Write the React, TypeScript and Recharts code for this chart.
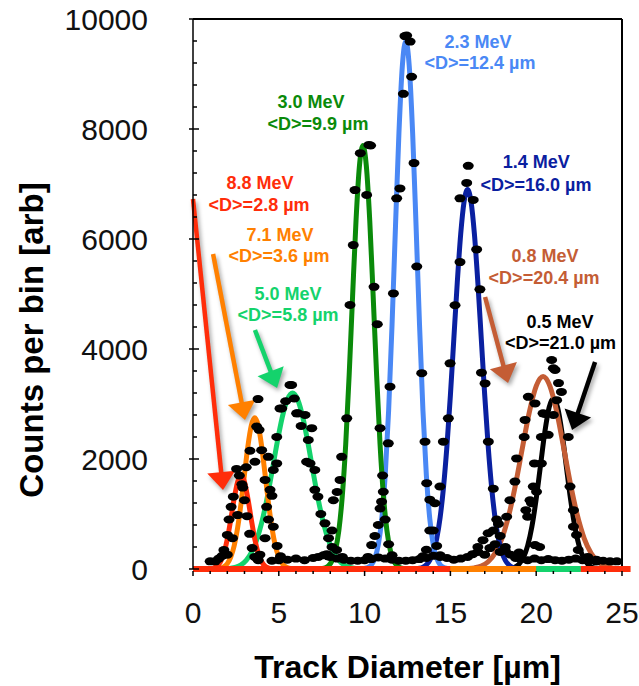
import React from 'react';
import {
  ComposedChart,
  Line,
  Scatter,
  XAxis,
  YAxis,
  ReferenceLine,
  ReferenceDot,
} from 'recharts';

const FONT = '"Liberation Sans", Arial, Helvetica, sans-serif';

// axis ticks
const X_TICKS = [0, 1, 2, 3, 4, 5, 6, 7, 8, 9, 10, 11, 12, 13, 14, 15, 16, 17, 18, 19, 20, 21, 22, 23, 24, 25];
const Y_TICKS = [0, 400, 800, 1200, 1600, 2000, 2400, 2800, 3200, 3600, 4000, 4400, 4800, 5200, 5600, 6000, 6400, 6800, 7200, 7600, 8000, 8400, 8800, 9200, 9600, 10000];

// fitted curves: [diameter µm, counts]
const FIT_88 = [[0, 0], [0.8, 0], [1.0, 5], [1.2, 18], [1.4, 52], [1.6, 131], [1.8, 287], [2.0, 544], [2.2, 896], [2.4, 1279], [2.6, 1583], [2.8, 1700], [3.0, 1583], [3.2, 1279], [3.4, 896], [3.6, 544], [3.8, 287], [4.0, 131], [4.2, 52], [4.4, 18], [4.6, 5], [4.8, 0], [15, 0]];
const FIT_71 = [[0, 0], [1.2, 0], [1.4, 5], [1.6, 15], [1.8, 41], [2.0, 98], [2.2, 215], [2.4, 423], [2.6, 748], [2.8, 1196], [3.0, 1721], [3.2, 2233], [3.4, 2610], [3.6, 2750], [3.8, 2610], [4.0, 2233], [4.2, 1721], [4.4, 1196], [4.6, 748], [4.8, 423], [5.0, 215], [5.2, 98], [5.4, 41], [5.6, 15], [5.8, 5], [6.0, 0], [20, 0]];
const FIT_50 = [[0, 0], [1.6, 0], [1.9, 6], [2.2, 15], [2.5, 36], [2.8, 77], [3.1, 157], [3.4, 297], [3.7, 518], [4.0, 838], [4.3, 1261], [4.6, 1763], [4.9, 2291], [5.2, 2758], [5.5, 3082], [5.8, 3200], [6.1, 3082], [6.4, 2758], [6.7, 2291], [7.0, 1763], [7.3, 1261], [7.6, 838], [7.9, 518], [8.2, 297], [8.5, 157], [8.8, 77], [9.1, 36], [9.4, 15], [9.7, 6], [10.0, 0], [22.6, 0]];
const FIT_30 = [[0, 0], [7.3, 0], [7.5, 7], [7.7, 21], [7.9, 59], [8.1, 148], [8.3, 338], [8.5, 703], [8.7, 1327], [8.9, 2272], [9.1, 3524], [9.3, 4958], [9.5, 6335], [9.7, 7332], [9.9, 7700], [10.1, 7332], [10.3, 6335], [10.5, 4958], [10.7, 3524], [10.9, 2272], [11.1, 1327], [11.3, 703], [11.5, 338], [11.7, 148], [11.9, 59], [12.1, 21], [12.3, 7], [12.5, 0], [15, 0]];
const FIT_23 = [[0, 0], [9.8, 0], [10.0, 10], [10.2, 29], [10.4, 79], [10.6, 197], [10.8, 443], [11.0, 909], [11.2, 1699], [11.4, 2880], [11.6, 4445], [11.8, 6230], [12.0, 7920], [12.2, 9149], [12.4, 9600], [12.6, 9149], [12.8, 7920], [13.0, 6230], [13.2, 4445], [13.4, 2880], [13.6, 1699], [13.8, 909], [14.0, 443], [14.2, 197], [14.4, 79], [14.6, 29], [14.8, 10], [15.0, 0]];
const FIT_14 = [[5, 0], [12.8, 0], [13.0, 6], [13.2, 15], [13.4, 34], [13.6, 76], [13.8, 157], [14.0, 303], [14.2, 549], [14.4, 934], [14.6, 1492], [14.8, 2240], [15.0, 3159], [15.2, 4185], [15.4, 5208], [15.6, 6089], [15.8, 6686], [16.0, 6900], [16.2, 6686], [16.4, 6089], [16.6, 5208], [16.8, 4185], [17.0, 3159], [17.2, 2240], [17.4, 1492], [17.6, 934], [17.8, 549], [18.0, 303], [18.2, 157], [18.4, 76], [18.6, 34], [18.8, 15], [19.0, 6], [19.2, 0], [22, 0]];
const FIT_08 = [[15, 0], [15.6, 0], [16.0, 7], [16.4, 21], [16.8, 55], [17.2, 132], [17.6, 285], [18.0, 553], [18.4, 973], [18.8, 1543], [19.2, 2208], [19.6, 2852], [20.0, 3325], [20.4, 3500], [20.8, 3325], [21.2, 2852], [21.6, 2208], [22.0, 1543], [22.4, 973], [22.8, 553], [23.2, 285], [23.6, 132], [24.0, 55], [24.4, 21], [24.8, 7], [25, 0]];
const FIT_05 = [[15, 0], [18.2, 0], [18.5, 13], [18.75, 34], [19.0, 89], [19.25, 204], [19.5, 419], [19.75, 773], [20.0, 1275], [20.25, 1880], [20.5, 2483], [20.75, 2933], [21.0, 3100], [21.25, 2933], [21.5, 2483], [21.75, 1880], [22.0, 1275], [22.25, 773], [22.5, 419], [22.75, 204], [23.0, 89], [23.25, 34], [23.5, 13], [23.8, 0], [25, 0]];

// measured histogram points
const DOTS_88 = [[1.3, 140], [1.5, 190], [1.7, 240], [1.8, 345], [2.0, 620], [2.1, 900], [2.22, 1130], [2.35, 1315], [2.54, 1820], [2.7, 1700], [2.85, 1540], [3.0, 1250], [3.15, 960], [3.3, 640], [3.45, 380], [3.6, 220], [3.8, 160]];
const DOTS_71 = [[2.0, 260], [2.3, 560], [2.6, 980], [2.9, 1480], [3.1, 1850], [3.32, 2150], [3.61, 1950], [3.71, 2590], [3.79, 3090], [3.85, 2530], [4.0, 2160], [4.2, 1620], [4.39, 2040], [4.49, 1440], [4.29, 1130], [4.68, 770], [4.9, 420], [5.1, 230]];
const DOTS_50 = [[3.9, 260], [4.2, 560], [4.4, 900], [4.6, 1330], [4.68, 1800], [4.88, 1920], [4.88, 2400], [5.07, 2920], [5.17, 2920], [5.4, 3050], [5.65, 3345], [5.75, 3345], [5.9, 3100], [6.04, 2830], [6.12, 2830], [6.3, 2600], [6.53, 2800], [6.62, 1950], [6.72, 2345], [6.82, 1920], [6.92, 2560], [7.1, 1800], [7.1, 1440], [7.28, 1315], [7.45, 1000], [7.69, 830], [7.9, 560], [8.1, 400], [8.37, 345], [8.7, 220]];
const DOTS_30 = [[7.9, 230], [8.1, 700], [8.18, 1250], [8.4, 1400], [8.57, 1620], [8.66, 2040], [8.96, 2740], [9.15, 4800], [9.34, 5890], [9.44, 6890], [9.75, 7560], [10.12, 6800], [10.25, 7710], [10.35, 7700], [10.55, 5130], [10.74, 4450], [10.9, 2560], [11.05, 1700], [11.2, 900], [11.4, 450], [11.6, 250]];
const DOTS_23 = [[10.2, 220], [10.41, 435], [10.6, 600], [10.8, 800], [10.9, 1100], [10.99, 1225], [11.09, 1405], [11.38, 2285], [11.48, 3315], [11.68, 5010], [11.87, 6740], [12.06, 6920], [12.26, 8640], [12.35, 9690], [12.45, 9700], [12.65, 9590], [12.74, 8950], [12.88, 7380], [13.04, 5500], [13.33, 3560], [13.52, 2315], [13.62, 1560], [13.8, 1260], [14.0, 700], [14.2, 420], [14.4, 250]];
const DOTS_14 = [[13.4, 230], [13.6, 350], [13.8, 700], [14.1, 1195], [14.39, 1500], [14.59, 2315], [14.88, 2740], [14.98, 3740], [15.27, 4795], [15.56, 5580], [15.56, 6740], [15.95, 7020], [16.04, 7330], [16.33, 6710], [16.53, 5810], [16.72, 5085], [16.81, 3570], [17.02, 3375], [17.21, 2315], [17.5, 1460], [17.7, 900], [17.9, 600], [18.2, 330]];
const DOTS_08 = [[16.6, 400], [16.9, 525], [17.2, 650], [17.5, 700], [17.8, 820], [18.28, 950], [18.47, 1250], [18.76, 1590], [18.86, 2010], [19.3, 2400], [19.35, 2710], [19.54, 3130], [19.93, 3010], [20.3, 2400], [20.4, 2830], [20.51, 2820], [20.7, 2440], [21.0, 2800], [21.47, 3220], [21.87, 2400], [22.17, 1070], [22.35, 620]];
const DOTS_05 = [[19.0, 300], [19.4, 1070], [19.5, 950], [19.64, 1250], [19.73, 1195], [19.83, 1500], [19.9, 1920], [20.02, 1405], [20.2, 400], [20.3, 1920], [20.9, 3800], [21.0, 3650], [21.1, 3620], [21.19, 3070], [21.3, 3380], [21.97, 1500], [22.17, 770], [22.45, 345], [19.93, 435], [23.0, 220], [23.5, 170]];
const DOTS_NOISE = [[1.0, 140], [4.6, 150], [5.0, 160], [5.5, 170], [6.0, 190], [6.5, 160], [7.0, 200], [7.3, 220], [7.6, 250], [7.8, 270], [8.0, 220], [8.4, 190], [8.8, 170], [9.2, 150], [9.6, 150], [10.0, 160], [10.4, 180], [10.8, 210], [11.2, 190], [11.6, 170], [12.0, 150], [12.4, 150], [12.8, 160], [13.2, 180], [13.6, 200], [14.0, 240], [14.4, 220], [14.8, 200], [15.2, 170], [15.6, 190], [16.0, 220], [16.3, 270], [16.6, 310], [17.0, 260], [17.3, 380], [17.6, 450], [17.9, 310], [18.2, 400], [18.5, 260], [18.8, 200], [19.1, 180], [19.5, 160], [19.9, 190], [20.3, 160], [20.7, 180], [21.1, 160], [21.5, 150], [21.9, 170], [22.3, 190], [22.7, 160], [23.1, 150], [23.5, 140], [23.9, 150], [24.3, 140], [24.7, 140]];

const COLORS = {
  red: '#ff2d0a',
  orange: '#ff8000',
  lime: '#14d36c',
  green: '#0a8a0a',
  sky: '#4a88f5',
  navy: '#0a20a0',
  brown: '#c45d35',
  black: '#000000',
};

// draw order: first is lowest
const CURVES = [
  { key: 'e05', color: COLORS.black, pts: FIT_05 },
  { key: 'e08', color: COLORS.brown, pts: FIT_08 },
  { key: 'e14', color: COLORS.navy, pts: FIT_14 },
  { key: 'e23', color: COLORS.sky, pts: FIT_23 },
  { key: 'e30', color: COLORS.green, pts: FIT_30 },
  { key: 'e50', color: COLORS.lime, pts: FIT_50 },
  { key: 'e71', color: COLORS.orange, pts: FIT_71 },
  { key: 'e88', color: COLORS.red, pts: FIT_88 },
];

// flat tails of the fits along the x axis (topmost colour in each stretch)
const BASELINE = [
  { from: 0, to: 15, color: COLORS.red },
  { from: 15, to: 20, color: COLORS.orange },
  { from: 20, to: 22.6, color: COLORS.lime },
  { from: 22.6, to: 25.5, color: COLORS.red },
];

const LABELS = [
  { text: '8.8 MeV', x: 3.9, y: 7018, color: COLORS.red },
  { text: '<D>=2.8 µm', x: 3.85, y: 6618, color: COLORS.red },
  { text: '7.1 MeV', x: 5.07, y: 6073, color: COLORS.orange },
  { text: '<D>=3.6 µm', x: 5.01, y: 5690, color: COLORS.orange },
  { text: '5.0 MeV', x: 5.54, y: 5000, color: COLORS.lime },
  { text: '<D>=5.8 µm', x: 5.54, y: 4618, color: COLORS.lime },
  { text: '3.0 MeV', x: 6.88, y: 8490, color: COLORS.green },
  { text: '<D>=9.9 µm', x: 7.28, y: 8090, color: COLORS.green },
  { text: '2.3 MeV', x: 16.61, y: 9580, color: COLORS.sky },
  { text: '<D>=12.4 µm', x: 16.72, y: 9200, color: COLORS.sky },
  { text: '1.4 MeV', x: 20.0, y: 7400, color: COLORS.navy },
  { text: '<D>=16.0 µm', x: 19.99, y: 6982, color: COLORS.navy },
  { text: '0.8 MeV', x: 20.51, y: 5690, color: COLORS.brown },
  { text: '<D>=20.4 µm', x: 20.46, y: 5300, color: COLORS.brown },
  { text: '0.5 MeV', x: 21.39, y: 4490, color: COLORS.black },
  { text: '<D>=21.0 µm', x: 21.42, y: 4110, color: COLORS.black },
];

const ARROWS = [
  { from: [0.0, 6727], to: [1.75, 1436], color: COLORS.red },
  { from: [1.17, 5727], to: [3.03, 2709], color: COLORS.orange },
  { from: [3.61, 4345], to: [4.9, 3290], color: COLORS.lime },
  { from: [17.02, 4945], to: [18.36, 3382], color: COLORS.brown },
  { from: [23.43, 3764], to: [22.09, 2527], color: COLORS.black },
];

const toPts = (pairs: number[][]) => pairs.map(([x, y]) => ({ x, y }));

const ALL_DOTS = toPts([
  ...DOTS_NOISE,
  ...DOTS_88,
  ...DOTS_71,
  ...DOTS_50,
  ...DOTS_30,
  ...DOTS_23,
  ...DOTS_14,
  ...DOTS_08,
  ...DOTS_05,
]);

function YTick(props: any) {
  const { x, y, payload } = props;
  const major = payload.value % 2000 === 0;
  return (
    <g>
      <line x1={major ? x - 4 : x} x2={major ? x + 6 : x + 4} y1={y} y2={y} stroke="#000" strokeWidth={1.5} />
      {major && (
        <text x={x - 45} y={y} textAnchor="end" dominantBaseline="central" fontSize={30} fontFamily={FONT} fill="#111">
          {payload.value}
        </text>
      )}
    </g>
  );
}

function XTick(props: any) {
  const { x, y, payload } = props;
  const major = payload.value % 5 === 0;
  return (
    <g>
      <line x1={x} x2={x} y1={y + 2} y2={major ? y + 7 : y + 5} stroke="#000" strokeWidth={1.5} />
      {major && (
        <text x={x} y={y + 43} textAnchor="middle" dominantBaseline="central" fontSize={30} fontFamily={FONT} fill="#111">
          {payload.value}
        </text>
      )}
    </g>
  );
}

const arrowShape = (color: string) => (p: any) => {
  const { x1, y1, x2, y2 } = p;
  const dx = x2 - x1;
  const dy = y2 - y1;
  const len = Math.hypot(dx, dy) || 1;
  const ux = dx / len;
  const uy = dy / len;
  const head = 18;
  const half = 14;
  const bx = x2 - ux * head;
  const by = y2 - uy * head;
  const pts = `${x2},${y2} ${bx - uy * half},${by + ux * half} ${bx + uy * half},${by - ux * half}`;
  return (
    <g style={{ filter: 'drop-shadow(2px 3px 2px rgba(0,0,0,0.35))' }}>
      <line x1={x1} y1={y1} x2={bx + ux * 2} y2={by + uy * 2} stroke={color} strokeWidth={4.5} />
      <polygon points={pts} fill={color} />
    </g>
  );
};

const textShape = (text: string, color: string) => (p: any) => (
  <text
    x={p.cx}
    y={p.cy}
    textAnchor="middle"
    dominantBaseline="central"
    fill={color}
    fontSize={18}
    fontWeight="bold"
    fontFamily={FONT}
  >
    {text}
  </text>
);

const dotShape = (p: any) => <ellipse cx={p.cx} cy={p.cy} rx={5.5} ry={4} fill="#000" />;

const yTitle = (props: any) => {
  const vb = props.viewBox || { x: 0, y: 19, width: 193, height: 550 };
  const cx = vb.x + 31;
  const cy = vb.y + 321;
  return (
    <text
      x={cx}
      y={cy}
      transform={`rotate(-90, ${cx}, ${cy})`}
      textAnchor="middle"
      dominantBaseline="central"
      fontSize={33}
      fontWeight="bold"
      fontFamily={FONT}
      fill="#000"
    >
      Counts per bin [arb]
    </text>
  );
};

const xTitle = (props: any) => {
  const vb = props.viewBox || { x: 193, y: 569, width: 429, height: 117 };
  return (
    <text
      x={vb.x + vb.width / 2}
      y={vb.y + 98}
      textAnchor="middle"
      dominantBaseline="central"
      fontSize={32}
      fontWeight="bold"
      fontFamily={FONT}
      fill="#000"
    >
      Track Diameter [µm]
    </text>
  );
};

export default function App() {
  return (
    <div style={{ position: 'absolute', left: 0, top: 0, width: 639, height: 686, background: '#fff' }}>
      <ComposedChart
        width={639}
        height={686}
        margin={{ top: 19, right: 17, bottom: 0, left: 0 }}
        style={{ fontFamily: FONT }}
      >
        <XAxis
          dataKey="x"
          type="number"
          domain={[0, 25]}
          ticks={X_TICKS}
          interval={0}
          tick={<XTick />}
          tickLine={false}
          tickSize={0}
          tickMargin={0}
          axisLine={false}
          height={117}
          label={xTitle}
        />
        <YAxis
          type="number"
          domain={[0, 10000]}
          ticks={Y_TICKS}
          interval={0}
          tick={<YTick />}
          tickLine={false}
          tickSize={0}
          tickMargin={0}
          axisLine={{ stroke: '#000', strokeWidth: 1.5 }}
          width={193}
          label={yTitle}
        />
        <ReferenceLine y={10000} stroke="#000" strokeWidth={2} />
        <ReferenceLine x={25} stroke="#000" strokeWidth={2} />
        <Scatter data={ALL_DOTS} dataKey="y" shape={dotShape} isAnimationActive={false} />
        {CURVES.map((c) => (
          <Line
            key={c.key}
            data={toPts(c.pts)}
            dataKey="y"
            type="monotone"
            stroke={c.color}
            strokeWidth={5}
            dot={false}
            activeDot={false}
            isAnimationActive={false}
          />
        ))}
        {BASELINE.map((b, i) => (
          <ReferenceLine
            key={`base-${i}`}
            segment={[{ x: b.from, y: 0 }, { x: b.to, y: 0 }]}
            stroke={b.color}
            strokeWidth={6}
            ifOverflow="visible"
          />
        ))}
        {ARROWS.map((a, i) => (
          <ReferenceLine
            key={`arrow-${i}`}
            segment={[{ x: a.from[0], y: a.from[1] }, { x: a.to[0], y: a.to[1] }]}
            shape={arrowShape(a.color)}
            ifOverflow="visible"
          />
        ))}
        {LABELS.map((l, i) => (
          <ReferenceDot
            key={`lbl-${i}`}
            x={l.x}
            y={l.y}
            r={0}
            shape={textShape(l.text, l.color)}
            ifOverflow="visible"
          />
        ))}
      </ComposedChart>
    </div>
  );
}
